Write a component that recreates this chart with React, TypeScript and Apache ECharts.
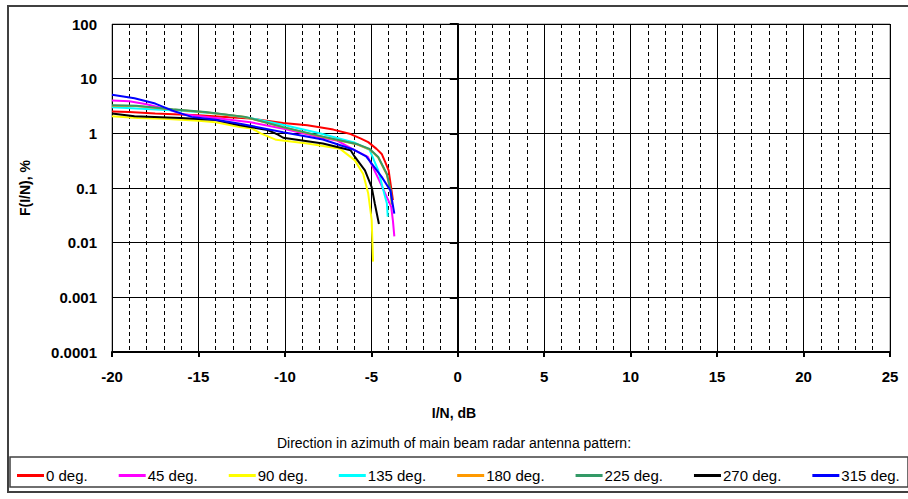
import React, { useEffect, useRef } from "react";
import * as echarts from "echarts";

const seriesNames = ["0 deg.", "45 deg.", "90 deg.", "135 deg.", "180 deg.", "225 deg.", "270 deg.", "315 deg."];
const seriesColors = ["#ff0000", "#ff00ff", "#ffff00", "#00ffff", "#ff9900", "#339966", "#000000", "#0000ff"];

const deg0 = [[-20, 2.5], [-19, 2.45], [-17.5, 2.3], [-15, 2.15], [-13, 1.95], [-12, 1.86], [-10.1, 1.54], [-8.7, 1.4], [-7.2, 1.17], [-6.2, 0.97], [-5.6, 0.8], [-5.18, 0.69], [-4.7, 0.52], [-4.4, 0.42], [-4.2, 0.3], [-4.0, 0.21], [-3.86, 0.104], [-3.75, 0.06]];
const deg45 = [[-20, 4.0], [-19, 3.85], [-18, 3.4], [-16.9, 2.8], [-15.8, 2.2], [-14, 1.9], [-12, 1.6], [-10, 1.2], [-8, 0.85], [-7, 0.74], [-6, 0.5], [-5.2, 0.37], [-4.6, 0.15], [-4.2, 0.08], [-3.85, 0.045], [-3.75, 0.025], [-3.67, 0.013]];
const deg90 = [[-20, 2.05], [-18.5, 1.9], [-17, 1.85], [-15, 1.7], [-14, 1.6], [-12.6, 1.3], [-11.9, 1.22], [-11.4, 1.0], [-10.5, 0.76], [-8.7, 0.65], [-6.8, 0.52], [-5.95, 0.32], [-5.47, 0.18], [-5.18, 0.079], [-4.98, 0.026], [-4.9, 0.0045]];
const deg135 = [[-20, 3.0], [-18, 2.8], [-16, 2.6], [-14, 2.3], [-12, 1.9], [-10, 1.4], [-8, 1.0], [-6, 0.68], [-5.1, 0.5], [-4.6, 0.21], [-4.3, 0.09], [-4.1, 0.052], [-4.05, 0.03]];
const deg180 = [[-20, 3.2], [-18.6, 3.15], [-16.5, 2.72], [-14.6, 2.43], [-12.3, 1.98], [-10.1, 1.29], [-7.8, 0.86], [-5.85, 0.63], [-5.1, 0.51], [-4.6, 0.36], [-4.1, 0.175], [-3.87, 0.08], [-3.82, 0.05]];
const deg225 = [[-20, 3.25], [-18.6, 3.2], [-16.5, 2.75], [-14.6, 2.45], [-12.3, 2.0], [-10.1, 1.3], [-7.8, 0.87], [-5.85, 0.64], [-5.1, 0.52], [-4.6, 0.37], [-4.1, 0.18], [-3.86, 0.085], [-3.8, 0.05]];
const deg270 = [[-20, 2.3], [-18.7, 2.05], [-16, 1.9], [-14, 1.75], [-12.6, 1.4], [-11, 1.15], [-10.4, 0.95], [-10.1, 0.83], [-7.8, 0.65], [-6.2, 0.49], [-5.95, 0.37], [-5.37, 0.21], [-4.98, 0.104], [-4.8, 0.052], [-4.56, 0.022]];
const deg315 = [[-20, 5.1], [-18.7, 4.4], [-17.5, 3.5], [-16.5, 2.6], [-15.4, 2.0], [-14, 1.78], [-12.6, 1.5], [-10.1, 1.05], [-7.8, 0.77], [-6, 0.5], [-5.3, 0.38], [-4.98, 0.28], [-4.4, 0.16], [-3.9, 0.09], [-3.67, 0.034]];

const seriesData = [deg0, deg45, deg90, deg135, deg180, deg225, deg270, deg315];

const xTitle = "I/N, dB";
const yTitle = "F(I/N), %";
const subTitle = "Direction in azimuth of main beam radar antenna pattern:";

const FONT = "Liberation Sans, Arial, sans-serif";

export default function App() {
  const ref = useRef<HTMLDivElement>(null);
  useEffect(() => {
    const chart = echarts.init(ref.current!, null, { renderer: "svg" });
    chart.setOption({
      animation: false,
      backgroundColor: "#ffffff",
      textStyle: { fontFamily: FONT },
      title: [
        { text: xTitle, left: "center", top: 401, textStyle: { fontSize: 14, fontWeight: "bold", color: "#000", fontFamily: FONT } },
        { text: subTitle, left: "center", top: 431, textStyle: { fontSize: 14, fontWeight: "normal", color: "#000", fontFamily: FONT } },
      ],
      graphic: [
        { type: "rect", shape: { x: 8, y: 6, width: 910, height: 486 }, style: { fill: "none", stroke: "#404040", lineWidth: 2 }, silent: true },
        { type: "rect", shape: { x: 10, y: 457, width: 898, height: 30 }, style: { fill: "none", stroke: "#404040", lineWidth: 1.5 }, silent: true },
      ],
      legend: {
        top: 463,
        left: 12,
        icon: "rect",
        itemWidth: 27,
        itemHeight: 3,
        itemGap: 31,
        textStyle: { fontSize: 15, color: "#000", fontFamily: FONT, padding: [0, 0, 0, -3] },
        data: seriesNames,
      },
      grid: { left: 112, right: 18, top: 24, bottom: 147, show: true, borderColor: "#808080", borderWidth: 1 },
      xAxis: {
        type: "value",
        min: -20,
        max: 25,
        interval: 5,
        axisLine: { onZero: false, lineStyle: { color: "#000", width: 2 } },
        axisTick: { show: true, length: 5, lineStyle: { color: "#000", width: 2 } },
        axisLabel: { margin: 17, fontSize: 15, fontWeight: "bold", color: "#000", fontFamily: FONT },
        splitLine: { show: true, lineStyle: { color: "#000", width: 1 } },
        minorTick: { show: false, splitNumber: 5 },
        minorSplitLine: { show: true, lineStyle: { color: "#000", width: 1, type: [4, 3] } },
      },
      yAxis: {
        type: "log",
        logBase: 10,
        min: 0.0001,
        max: 100,
        name: yTitle,
        nameLocation: "middle",
        nameGap: 80,
        nameTextStyle: { fontSize: 14, fontWeight: "bold", color: "#000", fontFamily: FONT },
        axisLine: { lineStyle: { color: "#000", width: 2 } },
        axisTick: { show: true, length: 8, lineStyle: { color: "#000", width: 2 } },
        axisLabel: {
          margin: 15,
          fontSize: 15,
          fontWeight: "bold",
          color: "#000",
          fontFamily: FONT,
          formatter: (v: number) => {
            const e = Math.round(Math.log10(v));
            return e >= 0 ? String(Math.pow(10, e)) : Math.pow(10, e).toFixed(-e);
          },
        },
        splitLine: { show: true, lineStyle: { color: "#000", width: 1 } },
      },
      series: seriesNames.map((name, i) => ({
        name,
        type: "line",
        data: seriesData[i],
        showSymbol: false,
        symbol: "none",
        lineStyle: { color: seriesColors[i], width: 2 },
        itemStyle: { color: seriesColors[i] },
      })),
    });
    return () => chart.dispose();
  }, []);
  return <div ref={ref} style={{ position: "absolute", left: 0, top: 0, width: 908, height: 499 }} />;
}
